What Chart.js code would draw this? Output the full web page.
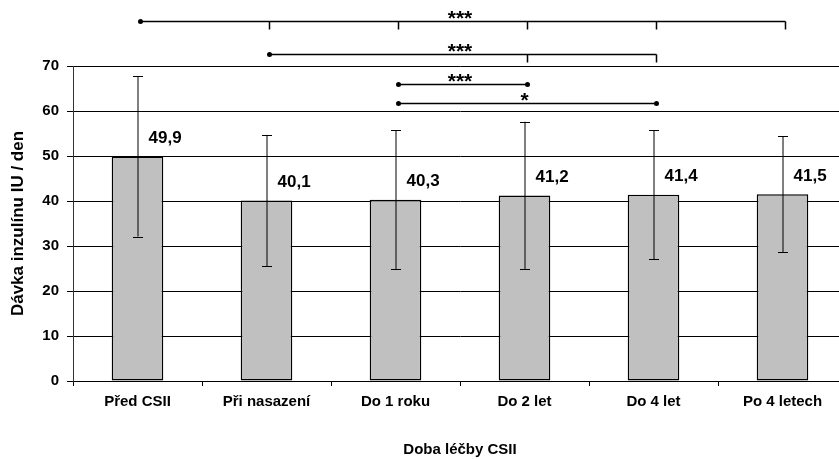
<!DOCTYPE html>
<html>
<head>
<meta charset="utf-8">
<script src="https://cdn.jsdelivr.net/npm/chart.js@4"></script>
<style>
  html, body { margin: 0; padding: 0; background: #fff; }
  #wrap { width: 839px; height: 459px; overflow: hidden; }
</style>
</head>
<body>
<div id="wrap"><canvas id="doseChart" width="850" height="459"></canvas></div>
<script>
// Data
const categories = ['Před CSII', 'Při nasazení', 'Do 1 roku', 'Do 2 let', 'Do 4 let', 'Po 4 letech'];
const doseMeans = [49.9, 40.1, 40.3, 41.2, 41.4, 41.5];
const doseSD = [17.8, 14.6, 15.4, 16.4, 14.3, 12.9];
const valueLabels = ['49,9', '40,1', '40,3', '41,2', '41,4', '41,5'];
const yTicks = [0, 10, 20, 30, 40, 50, 60, 70];

// Significance brackets (category indexes)
const sigFrom = [0, 1, 2, 2];
const sigTo = [5, 4, 3, 4];
const sigDots = [[0], [1], [2, 3], [2, 4]];
const sigTicks = [[1, 2, 3, 4, 5], [3, 4], [], []];
const sigStars = ['***', '***', '***', '*'];

const FONT = 'Arial, "Liberation Sans", sans-serif';

// error bars and value labels drawn on top of the bars
const errorBarPlugin = {
    id: 'errorBars',
    afterDatasetsDraw(chart) {
        const ctx = chart.ctx;
        const y = chart.scales.y;
        const meta = chart.getDatasetMeta(0);
        ctx.save();
        meta.data.forEach((bar, i) => {
            const x = bar.x;
            const top = y.getPixelForValue(doseMeans[i] + doseSD[i]);
            const bot = y.getPixelForValue(doseMeans[i] - doseSD[i]);
            ctx.strokeStyle = '#000';
            ctx.lineWidth = 1;
            ctx.beginPath();
            ctx.moveTo(x + 0.5, top);
            ctx.lineTo(x + 0.5, bot);
            ctx.moveTo(x - 4.5, Math.round(top) + 0.5);
            ctx.lineTo(x + 5.5, Math.round(top) + 0.5);
            ctx.moveTo(x - 4.5, Math.round(bot) + 0.5);
            ctx.lineTo(x + 5.5, Math.round(bot) + 0.5);
            ctx.stroke();

            // value label
            ctx.fillStyle = '#000';
            ctx.font = 'bold 17px ' + FONT;
            ctx.textAlign = 'left';
            ctx.textBaseline = 'middle';
            ctx.fillText(valueLabels[i], x + 11, y.getPixelForValue(doseMeans[i]) - 18);
        });
        ctx.restore();
    }
};

// significance brackets above the plot
const bracketPlugin = {
    id: 'brackets',
    afterDraw(chart) {
        const ctx = chart.ctx;
        const xs = chart.scales.x;
        const ys = chart.scales.y;
        const levels = [80, 72.7, 66, 61.8];
        const px = (i) => xs.getPixelForValue(i) + 3;
        ctx.save();
        ctx.strokeStyle = '#000';
        ctx.fillStyle = '#000';
        ctx.lineWidth = 1.5;
        sigFrom.forEach((from, r) => {
            const ly = Math.round(ys.getPixelForValue(levels[r])) + 0.5;
            const x1 = px(from), x2 = px(sigTo[r]);
            ctx.beginPath();
            ctx.moveTo(x1, ly);
            ctx.lineTo(x2, ly);
            sigTicks[r].forEach(t => {
                ctx.moveTo(px(t), ly);
                ctx.lineTo(px(t), ly + 8);
            });
            ctx.stroke();
            sigDots[r].forEach(d => {
                ctx.beginPath();
                ctx.arc(px(d), ly, 2.5, 0, Math.PI * 2);
                ctx.fill();
            });
            ctx.font = 'bold 21px ' + FONT;
            ctx.textAlign = 'center';
            ctx.textBaseline = 'alphabetic';
            ctx.fillText(sigStars[r], (x1 + x2) / 2 - 3, ly + 3);
        });
        ctx.restore();
    }
};

const ctx = document.getElementById('doseChart').getContext('2d');
new Chart(ctx, {
    type: 'bar',
    data: {
        labels: categories,
        datasets: [{
            data: doseMeans,
            backgroundColor: '#C0C0C0',
            borderColor: '#000',
            borderWidth: 1.5,
            borderSkipped: false,
            barPercentage: 0.4,
            categoryPercentage: 1.0
        }]
    },
    options: {
        responsive: false,
        animation: false,
        devicePixelRatio: 1,
        layout: { padding: { top: 66, right: 3, left: 0, bottom: 0 } },
        plugins: {
            legend: { display: false },
            tooltip: { enabled: false }
        },
        scales: {
            x: {
                grid: { drawOnChartArea: false, color: '#000', tickLength: 5, offset: true },
                border: { color: '#000', width: 1 },
                ticks: { color: '#000', font: { family: FONT, size: 15, weight: 'bold' }, padding: 7, maxRotation: 0 },
                title: {
                    display: true,
                    text: 'Doba léčby CSII',
                    color: '#000',
                    font: { family: FONT, size: 15, weight: 'bold' },
                    padding: { top: 0, bottom: 0 }
                },
                afterFit: (s) => { s.height = 78; }
            },
            y: {
                min: 0,
                max: 70,
                afterBuildTicks: (s) => { s.ticks = yTicks.map(v => ({ value: v })); },
                grid: { color: '#000', lineWidth: 1, tickLength: 6 },
                border: { color: '#333', width: 1 },
                ticks: { color: '#000', font: { family: FONT, size: 15, weight: 'bold' }, padding: 8 },
                title: {
                    display: true,
                    text: 'Dávka inzulínu IU / den',
                    color: '#000',
                    font: { family: FONT, size: 17, weight: 'bold' },
                    padding: { top: 8, bottom: 0 }
                },
                afterFit: (s) => { s.width = 73; }
            }
        }
    },
    plugins: [errorBarPlugin, bracketPlugin]
});
</script>
</body>
</html>
